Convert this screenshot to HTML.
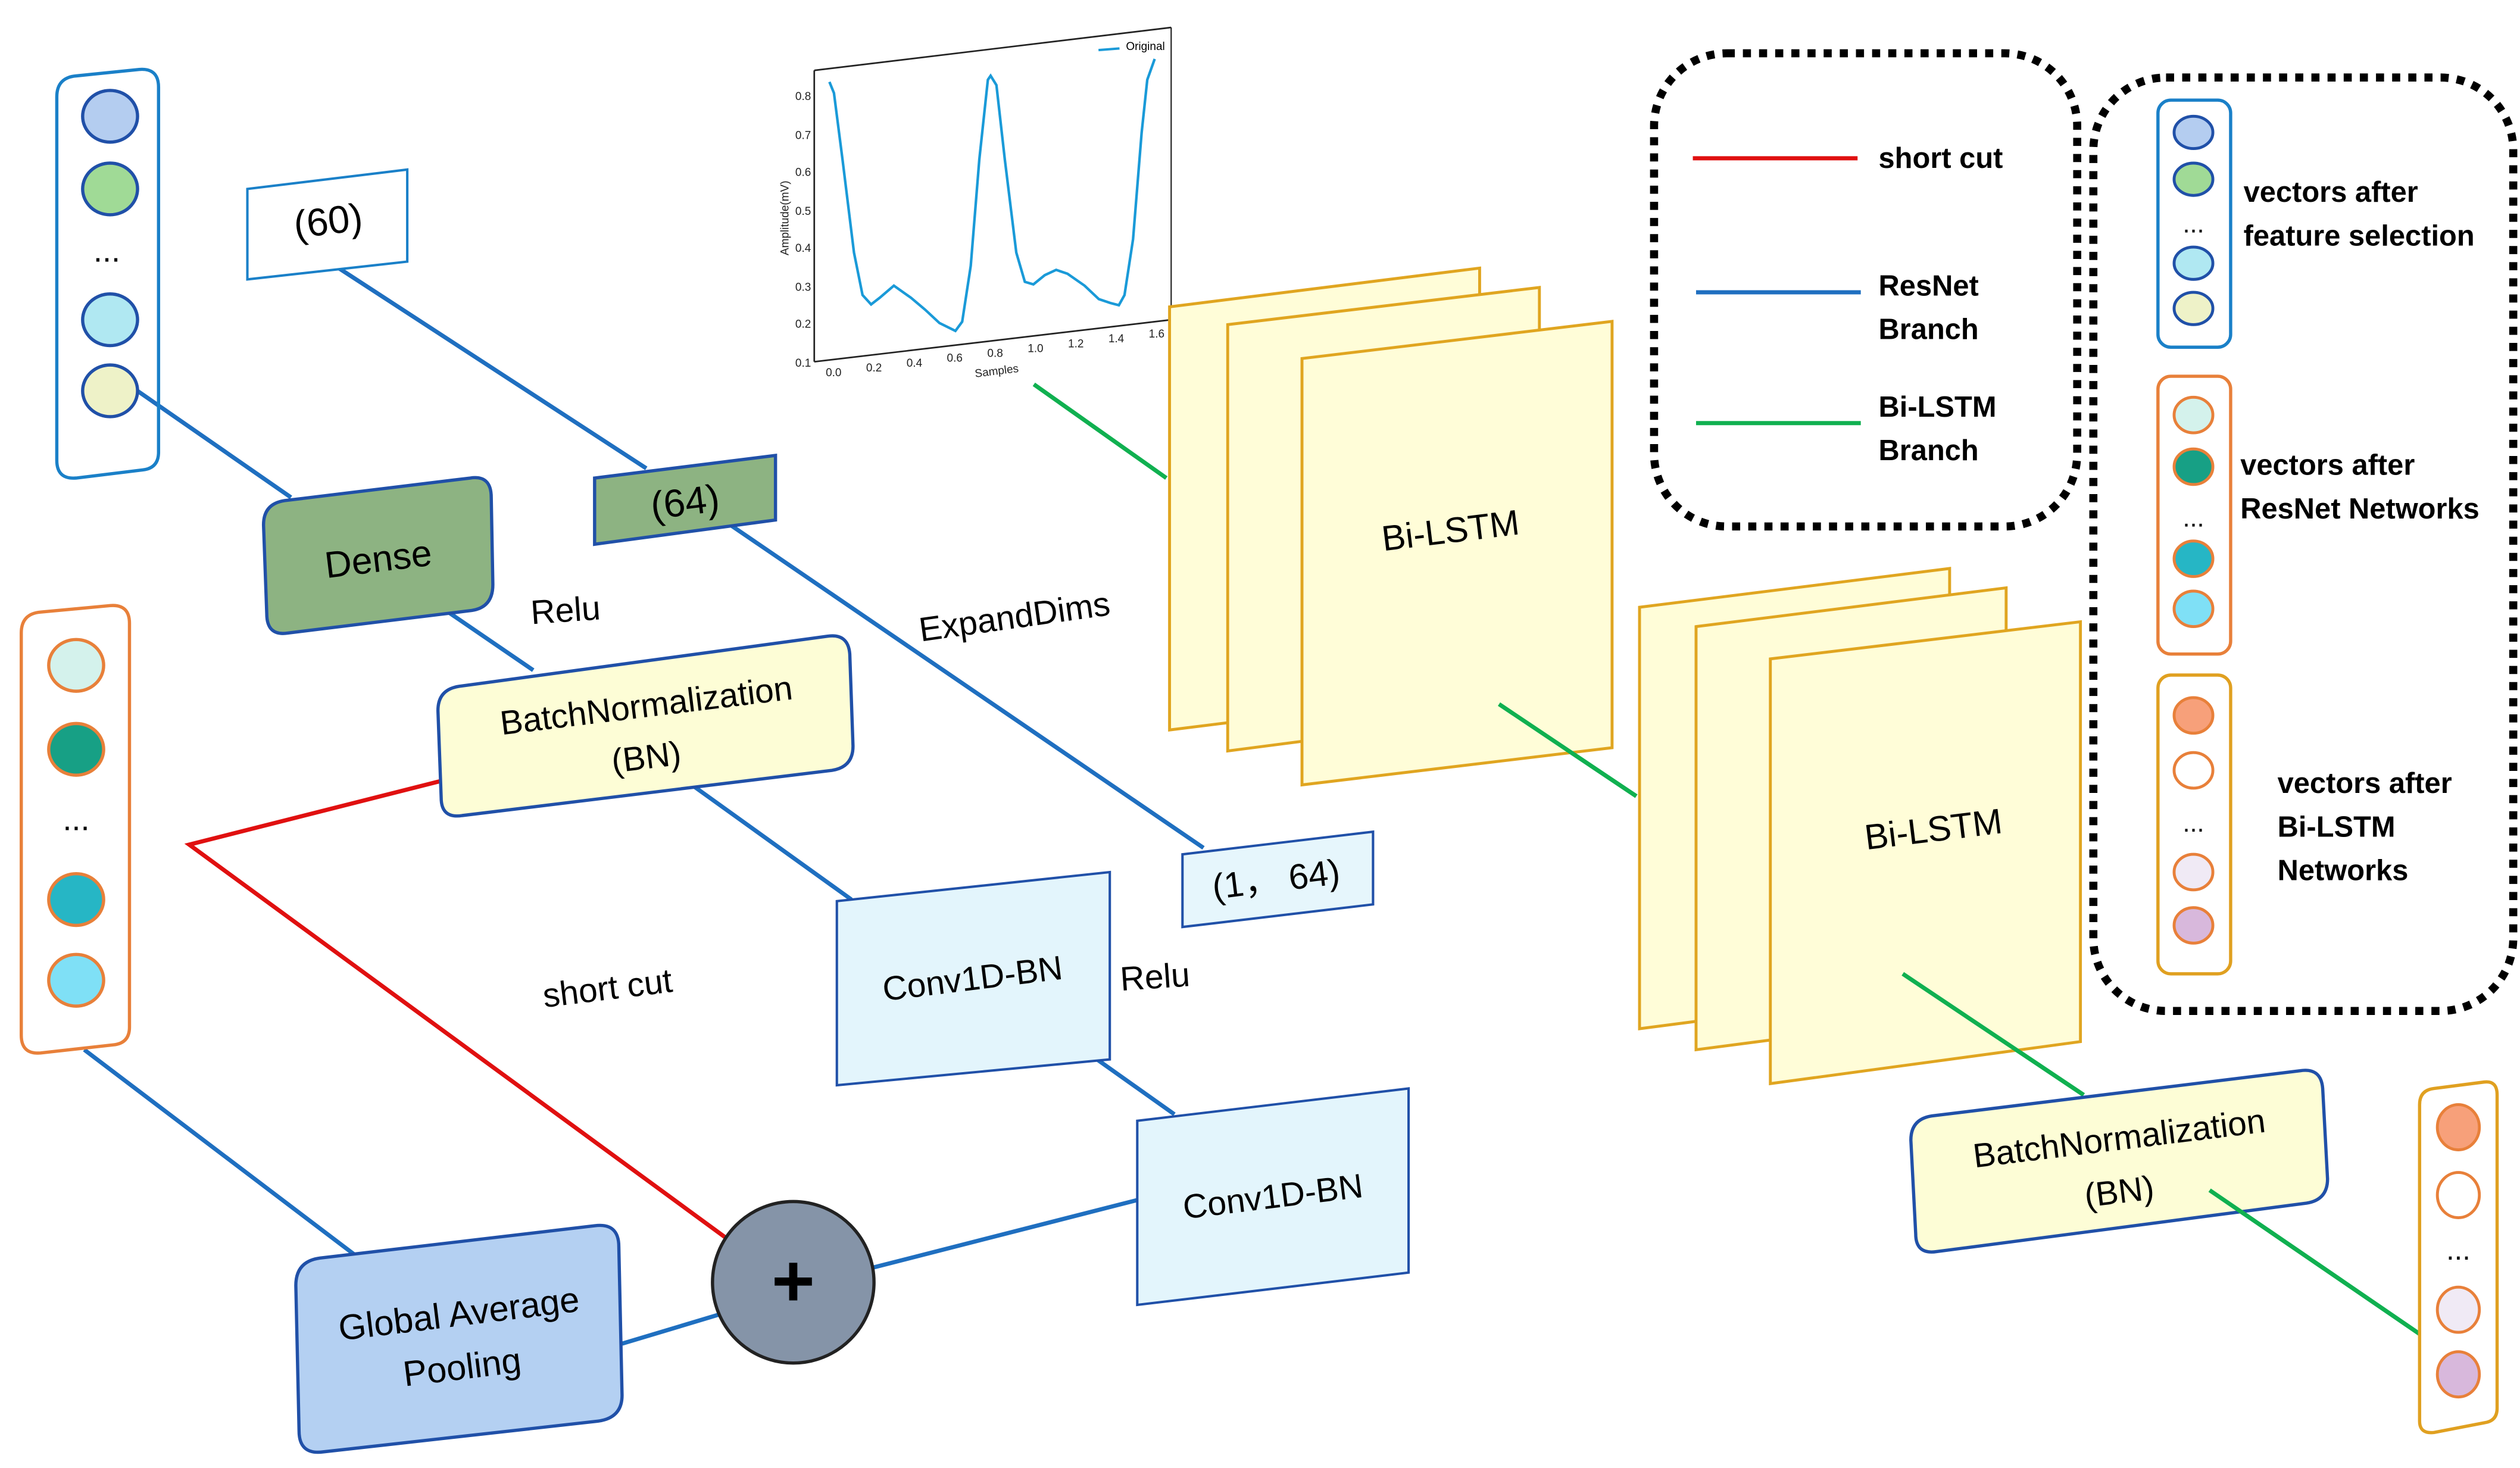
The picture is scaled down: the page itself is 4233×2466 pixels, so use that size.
<!DOCTYPE html>
<html><head><meta charset="utf-8"><style>
html,body{margin:0;padding:0;background:#fff;}
svg{display:block;}
text{font-family:"Liberation Sans",sans-serif;}
</style></head><body>
<svg width="4233" height="2466" viewBox="0 0 1560 909" xmlns="http://www.w3.org/2000/svg">
<rect width="1560" height="909" fill="#fff"/>

<!-- connectors -->
<g stroke="#1f6fc0" stroke-width="2.6" fill="none">
<line x1="82" y1="240" x2="180" y2="308"/>
<line x1="208" y1="165" x2="400" y2="290"/>
<line x1="452" y1="325" x2="745" y2="525"/>
<line x1="273" y1="376" x2="330" y2="415"/>
<line x1="424" y1="483" x2="527" y2="557"/>
<line x1="634" y1="624" x2="727" y2="690"/>
<line x1="540" y1="785" x2="716" y2="740"/>
<line x1="385" y1="832" x2="455" y2="811"/>
<line x1="52" y1="650" x2="230" y2="785"/>
</g>
<polyline points="287,480 117,523 450,767" stroke="#e01010" stroke-width="2.6" fill="none"/>
<g stroke="#10b050" stroke-width="2.6">
<line x1="640" y1="238" x2="722" y2="296"/>
<line x1="928" y1="436" x2="1013" y2="493"/>
<line x1="1178" y1="603" x2="1290" y2="678"/>
<line x1="1368" y1="737" x2="1498" y2="826"/>
</g>

<!-- left blue vector -->
<path d="M35,60 Q35,48 47,47 L86,43 Q98,42 98,54 L98,280 Q98,290 88,291 L47,296 Q35,297 35,285 Z" fill="none" stroke="#1a80c8" stroke-width="2"/>
<g stroke="#2050a8" stroke-width="2">
<ellipse cx="68" cy="72" rx="17" ry="16" fill="#b4cdf0"/>
<ellipse cx="68" cy="117" rx="17" ry="16" fill="#a0da96"/>
<ellipse cx="68" cy="198" rx="17" ry="16" fill="#b0e8f2"/>
<ellipse cx="68" cy="242" rx="17" ry="16" fill="#eef2c8"/>
</g>
<text x="66" y="162" font-size="20" text-anchor="middle">...</text>

<!-- left orange vector -->
<path d="M13,392 Q13,380 25,379 L68,375 Q80,374 80,386 L80,636 Q80,646 70,647 L25,652 Q13,653 13,641 Z" fill="none" stroke="#e8803a" stroke-width="2"/>
<g stroke="#e8803a" stroke-width="2">
<ellipse cx="47" cy="412" rx="17" ry="16" fill="#d4f2ec"/>
<ellipse cx="47" cy="464" rx="17" ry="16" fill="#17a085"/>
<ellipse cx="47" cy="557" rx="17" ry="16" fill="#26b6c5"/>
<ellipse cx="47" cy="607" rx="17" ry="16" fill="#7fe0f6"/>
</g>
<text x="47" y="514" font-size="20" text-anchor="middle">...</text>

<!-- (60) -->
<polygon points="153,117 252,105 252,162 153,173" fill="#fff" stroke="#1a80c8" stroke-width="1.5"/>
<text x="203" y="145" font-size="24" text-anchor="middle" transform="rotate(-7 203 137)">(60)</text>

<!-- Dense -->
<path d="M163,325 Q163,312 176,310 L291,296 Q304,294 304,308 L305,362 Q305,376 292,378 L178,392 Q165,394 165,380 Z" fill="#8db382" stroke="#2050a8" stroke-width="2"/>
<text x="234" y="354" font-size="23" text-anchor="middle" transform="rotate(-7 234 346)">Dense</text>

<!-- (64) -->
<polygon points="368,296 480,282 480,322 368,337" fill="#8db382" stroke="#2050a8" stroke-width="2"/>
<text x="424" y="319" font-size="24" text-anchor="middle" transform="rotate(-7 424 311)">(64)</text>

<text x="350" y="385" font-size="21" text-anchor="middle" transform="rotate(-4 350 378)">Relu</text>

<!-- BN left -->
<path d="M271,440 Q271,427 284,425 L512,394 Q525,392 526,405 L528,462 Q528,475 515,477 L286,505 Q273,507 273,494 Z" fill="#fdfdd6" stroke="#2050a8" stroke-width="2"/>
<text x="400" y="444" font-size="21" text-anchor="middle" transform="rotate(-7 400 437)">BatchNormalization</text>
<text x="400" y="476" font-size="21" text-anchor="middle" transform="rotate(-7 400 469)">(BN)</text>

<text x="628" y="389" font-size="21" text-anchor="middle" transform="rotate(-8 628 382)">ExpandDims</text>

<!-- (1,64) -->
<polygon points="732,529 850,515 850,560 732,574" fill="#e6f6fc" stroke="#2050a8" stroke-width="1.5"/>
<text x="790" y="552" font-size="22" text-anchor="middle" transform="rotate(-7 790 545)">(1， 64)</text>

<!-- Conv1D top -->
<polygon points="518,558 687,540 687,656 518,672" fill="#e3f5fc" stroke="#2050a8" stroke-width="1.5"/>
<text x="602" y="613" font-size="21" text-anchor="middle" transform="rotate(-7 602 606)">Conv1D-BN</text>
<text x="715" y="612" font-size="21" text-anchor="middle" transform="rotate(-4 715 605)">Relu</text>

<!-- Conv1D bottom -->
<polygon points="704,694 872,674 872,788 704,808" fill="#e3f5fc" stroke="#2050a8" stroke-width="1.5"/>
<text x="788" y="748" font-size="21" text-anchor="middle" transform="rotate(-7 788 741)">Conv1D-BN</text>

<text x="376" y="619" font-size="21" text-anchor="middle" transform="rotate(-7 376 612)">short cut</text>

<!-- plus -->
<circle cx="491" cy="794" r="50" fill="#8594a8" stroke="#222" stroke-width="2"/>
<text x="491" y="809" font-size="46" text-anchor="middle" font-weight="bold">+</text>

<!-- GAP -->
<path d="M183,796 Q183,781 198,779 L368,759 Q383,757 383,772 L385,864 Q385,878 370,880 L200,899 Q185,901 185,886 Z" fill="#b4d0f2" stroke="#2050a8" stroke-width="2"/>
<text x="284" y="821" font-size="22" text-anchor="middle" transform="rotate(-7 284 814)">Global Average</text>
<text x="286" y="854" font-size="22" text-anchor="middle" transform="rotate(-7 286 847)">Pooling</text>

<!-- chart -->
<g>
<line x1="504" y1="43.6" x2="725" y2="17" stroke="#222" stroke-width="1"/>
<line x1="504" y1="43.6" x2="504" y2="224" stroke="#222" stroke-width="1"/>
<line x1="725" y1="17" x2="725" y2="198" stroke="#222" stroke-width="0.8"/>
<line x1="504" y1="224" x2="725" y2="198" stroke="#222" stroke-width="1"/>
<polyline fill="none" stroke="#1a9ad8" stroke-width="1.6" points="513.4,50.7 516.2,57.6 521.5,98.8 528.6,156.4 533.9,182.7 539.2,188.5 544.5,184.4 553.3,176.9 563.9,184.4 572.7,191.8 581.5,200 591.4,204.9 595.6,199.2 600.9,164.6 606.2,98.8 611.5,49.4 613.2,46.9 616.8,52.7 622,98.8 629.1,156.4 634.4,174.5 639.7,176.1 646.7,170.4 653.8,167.1 660.8,169.5 671.4,176.9 680.2,185.2 687.3,187.6 692.6,189 696.1,182.7 701.4,148.1 706.7,82.3 710.2,49.4 714.8,36.5"/>
<g font-size="7" fill="#222" text-anchor="end">
<text x="502" y="62">0.8</text><text x="502" y="86">0.7</text><text x="502" y="109">0.6</text><text x="502" y="133">0.5</text><text x="502" y="156">0.4</text><text x="502" y="180">0.3</text><text x="502" y="203">0.2</text><text x="502" y="227">0.1</text>
</g>
<g font-size="7" fill="#222" text-anchor="middle">
<text x="516" y="233">0.0</text><text x="541" y="230">0.2</text><text x="566" y="227">0.4</text><text x="591" y="224">0.6</text><text x="616" y="221">0.8</text><text x="641" y="218">1.0</text><text x="666" y="215">1.2</text><text x="691" y="212">1.4</text><text x="716" y="209">1.6</text>
<text x="617" y="232" transform="rotate(-7 617 230)">Samples</text>
<text x="488" y="135" transform="rotate(-90 488 135)">Amplitude(mV)</text>
</g>
<line x1="680" y1="31" x2="693" y2="30" stroke="#1a9ad8" stroke-width="1.5"/>
<text x="697" y="31" font-size="7">Original</text>
</g>

<!-- Bi-LSTM group 1 -->
<g fill="#fffdd8" stroke="#e0a520" stroke-width="1.8">
<polygon points="724,190 916,166 916,428 724,452"/>
<polygon points="760,201 953,178 953,440 760,465"/>
<polygon points="806,222 998,199 998,463 806,486"/>
<polygon points="1015,376 1207,352 1207,612 1015,637"/>
<polygon points="1050,388 1242,364 1242,625 1050,650"/>
<polygon points="1096,408 1288,385 1288,645 1096,671"/>
</g>
<text x="898" y="336" font-size="22" text-anchor="middle" transform="rotate(-7 898 329)">Bi-LSTM</text>
<text x="1197" y="521" font-size="22" text-anchor="middle" transform="rotate(-7 1197 514)">Bi-LSTM</text>
<line x1="928" y1="436" x2="1013" y2="493" stroke="#10b050" stroke-width="2.6"/>
<line x1="1178" y1="603" x2="1290" y2="678" stroke="#10b050" stroke-width="2.6"/>

<!-- BN right -->
<path d="M1183,706 Q1183,693 1196,691 L1424,663 Q1437,661 1438,674 L1441,730 Q1441,743 1428,745 L1199,775 Q1186,777 1186,764 Z" fill="#fdfdd6" stroke="#2050a8" stroke-width="2"/>
<text x="1312" y="712" font-size="21" text-anchor="middle" transform="rotate(-7 1312 705)">BatchNormalization</text>
<text x="1312" y="745" font-size="21" text-anchor="middle" transform="rotate(-7 1312 738)">(BN)</text>
<line x1="1368" y1="737" x2="1498" y2="826" stroke="#10b050" stroke-width="2.6"/>

<!-- right vector -->
<path d="M1498,684 Q1498,675 1507,674 L1538,670 Q1546,669 1546,678 L1546,872 Q1546,880 1538,881 L1507,887 Q1498,888 1498,880 Z" fill="#fff" stroke="#e0a020" stroke-width="2"/>
<g stroke="#e8803a" stroke-width="1.8">
<ellipse cx="1522" cy="698" rx="13" ry="14" fill="#f7a07a"/>
<ellipse cx="1522" cy="740" rx="13" ry="14" fill="#fff"/>
<ellipse cx="1522" cy="811" rx="13" ry="14" fill="#f0eaf5"/>
<ellipse cx="1522" cy="851" rx="13" ry="14" fill="#d8b8dc"/>
</g>
<text x="1522" y="780" font-size="18" text-anchor="middle">...</text>

<!-- legend box 1 -->
<rect x="1024" y="33" width="262" height="293" rx="45" fill="none" stroke="#000" stroke-width="5" stroke-dasharray="5 5"/>
<line x1="1048" y1="98" x2="1150" y2="98" stroke="#e01010" stroke-width="2.6"/>
<line x1="1050" y1="181" x2="1152" y2="181" stroke="#1f6fc0" stroke-width="2.6"/>
<line x1="1050" y1="262" x2="1152" y2="262" stroke="#10b050" stroke-width="2.6"/>
<g font-size="18" font-weight="bold">
<text x="1163" y="104">short cut</text>
<text x="1163" y="183">ResNet</text><text x="1163" y="210">Branch</text>
<text x="1163" y="258">Bi-LSTM</text><text x="1163" y="285">Branch</text>
</g>

<!-- legend box 2 -->
<rect x="1296" y="48" width="260" height="578" rx="45" fill="none" stroke="#000" stroke-width="5" stroke-dasharray="5 5"/>
<rect x="1336" y="62" width="45" height="153" rx="8" fill="none" stroke="#1a80c8" stroke-width="2"/>
<g stroke="#2050a8" stroke-width="1.8">
<ellipse cx="1358" cy="82" rx="12" ry="10" fill="#b4cdf0"/>
<ellipse cx="1358" cy="111" rx="12" ry="10" fill="#a0da96"/>
<ellipse cx="1358" cy="163" rx="12" ry="10" fill="#b0e8f2"/>
<ellipse cx="1358" cy="191" rx="12" ry="10" fill="#eef2c8"/>
</g>
<text x="1358" y="144" font-size="16" text-anchor="middle">...</text>
<rect x="1336" y="233" width="45" height="172" rx="8" fill="none" stroke="#e8803a" stroke-width="2"/>
<g stroke="#e8803a" stroke-width="1.8">
<ellipse cx="1358" cy="257" rx="12" ry="11" fill="#d4f2ec"/>
<ellipse cx="1358" cy="289" rx="12" ry="11" fill="#17a085"/>
<ellipse cx="1358" cy="346" rx="12" ry="11" fill="#26b6c5"/>
<ellipse cx="1358" cy="377" rx="12" ry="11" fill="#7fe0f6"/>
</g>
<text x="1358" y="326" font-size="16" text-anchor="middle">...</text>
<rect x="1336" y="418" width="45" height="185" rx="8" fill="none" stroke="#e0a020" stroke-width="2"/>
<g stroke="#e8803a" stroke-width="1.8">
<ellipse cx="1358" cy="443" rx="12" ry="11" fill="#f7a07a"/>
<ellipse cx="1358" cy="477" rx="12" ry="11" fill="#fff"/>
<ellipse cx="1358" cy="540" rx="12" ry="11" fill="#f0eaf5"/>
<ellipse cx="1358" cy="573" rx="12" ry="11" fill="#d8b8dc"/>
</g>
<text x="1358" y="515" font-size="16" text-anchor="middle">...</text>
<g font-size="18" font-weight="bold">
<text x="1389" y="125">vectors after</text><text x="1389" y="152">feature selection</text>
<text x="1387" y="294">vectors after</text><text x="1387" y="321">ResNet Networks</text>
<text x="1410" y="491">vectors after</text><text x="1410" y="518">Bi-LSTM</text><text x="1410" y="545">Networks</text>
</g>
</svg>
</body></html>
